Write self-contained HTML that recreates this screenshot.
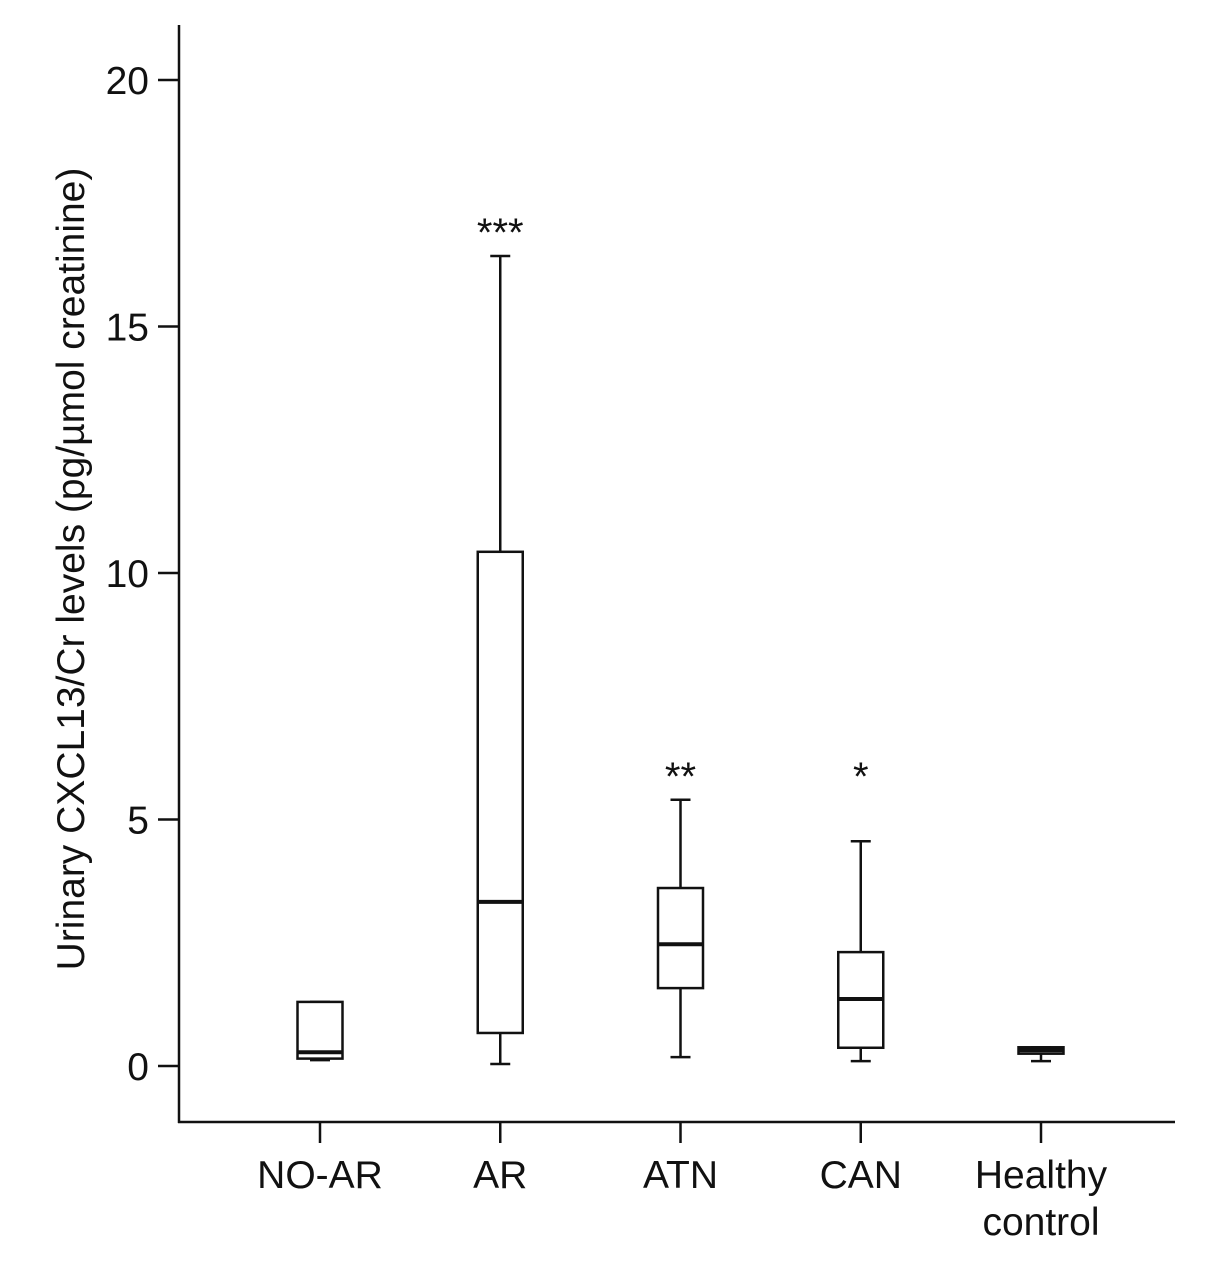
<!DOCTYPE html>
<html><head><meta charset="utf-8"><style>
html,body{margin:0;padding:0;background:#fff;}
svg{display:block;font-family:"Liberation Sans",Arial,sans-serif;}
</style></head><body>
<svg id="chart" width="1205" height="1275" viewBox="0 0 1205 1275" xmlns="http://www.w3.org/2000/svg"></svg>
<script>
const categories = ["NO-AR","AR","ATN","CAN","Healthy control"];
const whiskerMin = [0.12, 0.04, 0.18, 0.10, 0.10];
const q1Values = [0.15, 0.67, 1.58, 0.37, 0.25];
const medianValues = [0.28, 3.33, 2.47, 1.36, 0.32];
const q3Values = [1.30, 10.43, 3.61, 2.31, 0.38];
const whiskerMax = [1.30, 16.43, 5.40, 4.56, 0.38];
const significance = ["", "***", "**", "*", ""];
const yTicks = [0, 5, 10, 15, 20];

const svg = document.getElementById('chart');
const NS = "http://www.w3.org/2000/svg";
const y = v => 1066 - v * 49.3;
const xCenters0 = 320, xStep = 180.25;
const x = i => xCenters0 + i * xStep;
function mk(tag, attrs, name) {
  const e = document.createElementNS(NS, tag);
  for (const k in attrs) e.setAttribute(k, attrs[k]);
  
  
  svg.appendChild(e);
  return e;
}
const S = {stroke:"#111","stroke-width":2.5,fill:"none"};
const FS = 39;
mk('line', Object.assign({x1:179,y1:25,x2:179,y2:1123}, S), 'y-axis-line');
mk('line', Object.assign({x1:178,y1:1122,x2:1175,y2:1122}, S), 'x-axis-line');
yTicks.forEach(t => {
  mk('line', Object.assign({x1:158,y1:y(t),x2:179,y2:y(t)}, S), 'y-tick');
  const tx = mk('text', {x:149,y:y(t)+14,"text-anchor":"end","font-size":FS,fill:"#111"}, 'y-tick-label');
  tx.textContent = t;
});
const yt = mk('text', {x:0,y:0,"text-anchor":"middle","font-size":FS,fill:"#111",transform:"translate(84,569) rotate(-90)"}, 'y-axis-title');
yt.textContent = "Urinary CXCL13/Cr levels (pg/µmol creatinine)";
const hw = 22.5;
categories.forEach((c, i) => {
  const cx = x(i);
  mk('line', Object.assign({x1:cx,y1:1122,x2:cx,y2:1143}, S), 'x-tick');
  if (c === "Healthy control") {
    const t1 = mk('text', {x:cx,y:1188,"text-anchor":"middle","font-size":FS,fill:"#111"}, 'x-tick-label');
    t1.textContent = "Healthy";
    const t2 = mk('text', {x:cx,y:1235,"text-anchor":"middle","font-size":FS,fill:"#111"}, 'x-tick-label');
    t2.textContent = "control";
  } else {
    const t = mk('text', {x:cx,y:1188,"text-anchor":"middle","font-size":FS,fill:"#111"}, 'x-tick-label');
    t.textContent = c;
  }
  mk('line', Object.assign({x1:cx,y1:y(whiskerMax[i]),x2:cx,y2:y(q3Values[i])}, S), 'upper-whisker');
  mk('line', Object.assign({x1:cx,y1:y(q1Values[i]),x2:cx,y2:y(whiskerMin[i])}, S), 'lower-whisker');
  mk('line', Object.assign({x1:cx-10,y1:y(whiskerMax[i]),x2:cx+10,y2:y(whiskerMax[i])}, S), 'whisker-cap');
  mk('line', Object.assign({x1:cx-10,y1:y(whiskerMin[i]),x2:cx+10,y2:y(whiskerMin[i])}, S), 'whisker-cap');
  mk('rect', Object.assign({x:cx-hw,y:y(q3Values[i]),width:2*hw,height:y(q1Values[i])-y(q3Values[i])}, S, {fill:"#fff"}), 'box-' + c.toLowerCase().replace(/ /g,'-'));
  mk('line', {x1:cx-hw,y1:y(medianValues[i]),x2:cx+hw,y2:y(medianValues[i]),stroke:"#111","stroke-width":4}, 'median-line');
  if (significance[i]) {
    const top = Math.max(whiskerMax[i], 5.4);
    const s = mk('text', {x:cx,y:y(top)-10,"text-anchor":"middle","font-size":40,fill:"#111"}, 'significance-marker');
    s.textContent = significance[i];
  }
});
</script>
</body></html>
